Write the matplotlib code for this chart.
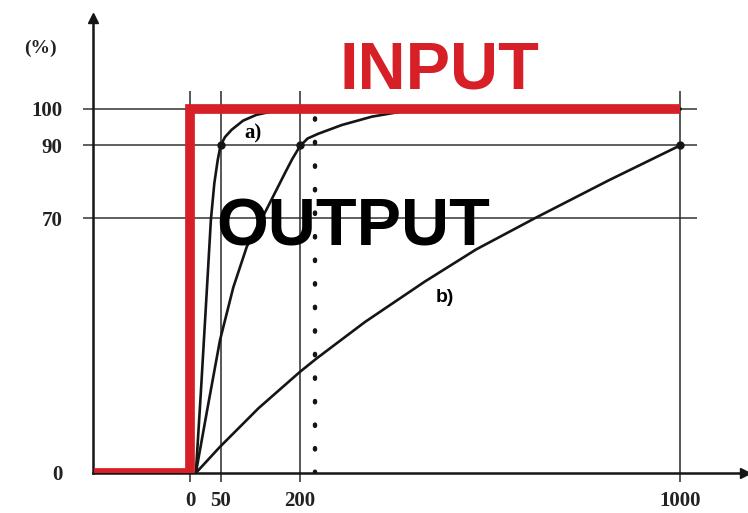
import matplotlib
matplotlib.use("Agg")
import matplotlib.pyplot as plt
import numpy as np

# step input (time, %)
input_t = [-175, 0, 0, 1000]
input_y = [0, 0, 100, 100]

# output responses
a_t = [8, 16, 24, 28, 33, 39, 45, 50, 58, 70, 91, 116, 145, 200, 1000]
a_y = [0, 22, 44.5, 55.6, 69.5, 79.6, 86, 90, 92.3, 94.3, 96.8, 98.4, 99.3, 99.8, 100]

c_t = [8, 28, 49, 73, 98, 132, 155, 171, 185, 200, 215, 236, 283, 344, 405, 500, 1000]
c_y = [0, 18.5, 36.5, 51, 62.2, 71.5, 78, 82.5, 86.3, 89.8, 91.9, 93.2, 95.6, 97.9, 99.3, 99.9, 100]

b_t = [8, 49, 120, 200, 233, 330, 453, 560, 685, 844, 1000]
b_y = [0, 7.2, 17.8, 27.8, 31.5, 41.5, 52.6, 61.4, 70, 80.4, 90]

mark_t = [50, 200, 1000]
mark_y = [90, 90, 90]

level_y = [70, 90, 100]
time_marks = [0, 50, 200, 1000]
dotted_t = 230

x_ticks = [0, 50, 200, 1000]
x_labels = ["0", "50", "200", "1000"]
y_ticks = [0, 70, 90, 100]
y_labels = ["0", "70", "90", "100"]

RED = "#d61f26"
INK = "#151515"
SERIF = ["Liberation Serif", "DejaVu Serif"]
SANS = ["Liberation Sans", "DejaVu Sans"]

P = 0.93  # the sketch squeezes the long times a little


def fwd(x):
    x = np.asarray(x, dtype=float)
    return np.sign(x) * np.abs(x) ** P


def inv(x):
    x = np.asarray(x, dtype=float)
    return np.sign(x) * np.abs(x) ** (1 / P)


fig = plt.figure(figsize=(7.48, 5.13), dpi=100)
ax = fig.add_axes([93 / 748, 40 / 513, 652 / 748, 455 / 513])
ax.set_xscale("function", functions=(fwd, inv))
ax.set_xlim(-176, 1143)
ax.set_ylim(0, 125)

for s in ["top", "right"]:
    ax.spines[s].set_visible(False)
for s in ["left", "bottom"]:
    ax.spines[s].set_linewidth(1.8)
    ax.spines[s].set_color(INK)
ax.plot(0, 1, "^", color=INK, ms=7, transform=ax.transAxes, clip_on=False)
ax.plot(1, 0, ">", color=INK, ms=7, transform=ax.transAxes, clip_on=False)

# horizontal levels
ax.hlines(level_y, -0.0153, 0.926, transform=ax.get_yaxis_transform(),
          colors="#333333", lw=1.1, clip_on=False, zorder=1)
# vertical time marks
ax.vlines(time_marks, -2.5, 105, colors="#2a2a2a", lw=1.1, clip_on=False, zorder=1)
ax.vlines([dotted_t], 0, 98, colors=INK, lw=3.2,
          linestyles=[(0, (0.3, 5.0))], capstyle="round", zorder=1)

for t, y in [(a_t, a_y), (c_t, c_y), (b_t, b_y)]:
    ax.plot(t, y, color=INK, lw=1.9, zorder=3)
ax.plot(mark_t, mark_y, "o", color=INK, ms=5, zorder=4)

ax.plot(input_t, input_y, color=RED, lw=7, solid_joinstyle="miter",
        solid_capstyle="butt", zorder=5)

ax.set_xticks(x_ticks)
ax.set_xticklabels(x_labels)
ax.set_yticks(y_ticks)
ax.set_yticklabels(y_labels)
ax.tick_params(axis="x", length=0, pad=13)
ax.tick_params(axis="y", length=0, pad=22)
for lab in ax.get_xticklabels() + ax.get_yticklabels():
    lab.set_family(SERIF)
    lab.set_fontweight("bold")
    lab.set_fontsize(15)
    lab.set_color("#222222")

fig.text(40 / 748, 1 - 48 / 513, "(%)", family=SERIF, fontweight="bold",
         fontsize=14, ha="center", va="center", color="#222222")

ax.text(0.532, 0.846, "INPUT", transform=ax.transAxes, family=SANS,
        fontweight="bold", fontsize=48, color=RED, ha="center", va="baseline")
ax.text(0.399, 0.499, "OUTPUT", transform=ax.transAxes, family=SANS,
        fontweight="bold", fontsize=48, color="black", ha="center",
        va="baseline", zorder=6)
ax.text(0.2455, 0.747, "a)", transform=ax.transAxes, family=SERIF,
        fontweight="bold", fontsize=15, ha="center", va="center", zorder=6)
ax.text(0.54, 0.385, "b)", transform=ax.transAxes, family=SANS,
        fontweight="bold", fontsize=14, ha="center", va="center", zorder=6)

fig.savefig("out.png", dpi=100)
